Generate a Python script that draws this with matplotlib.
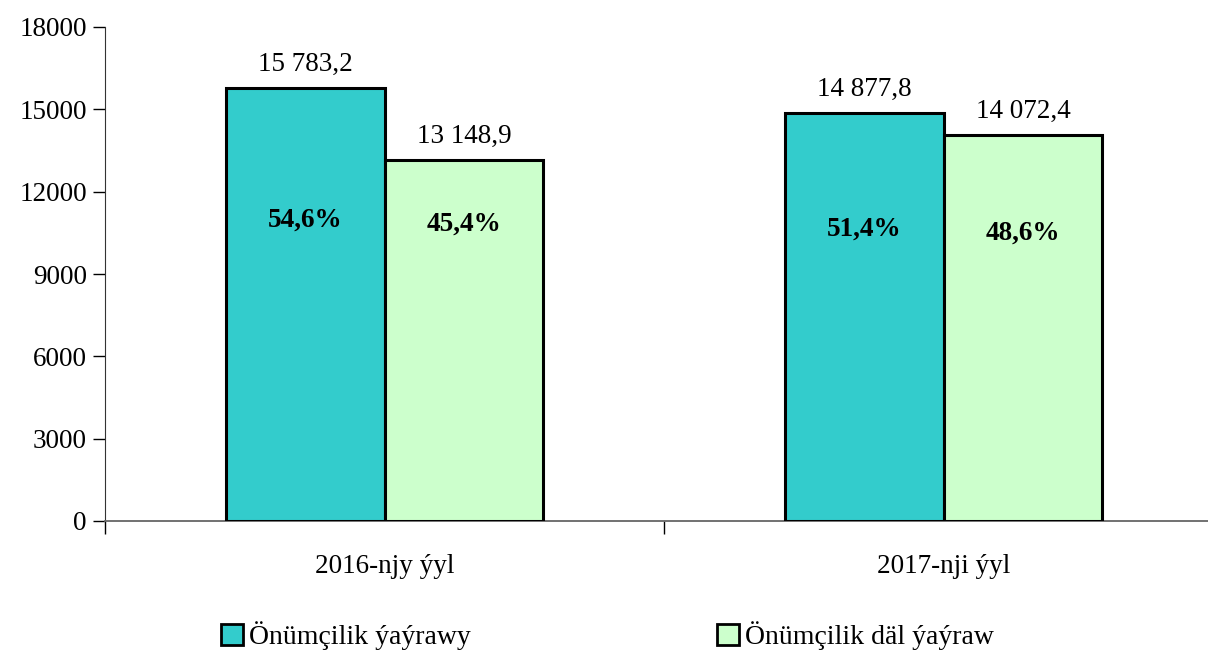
import matplotlib
matplotlib.use("Agg")
import matplotlib.pyplot as plt
from matplotlib.patches import Patch

categories = ["2016-njy ýyl", "2017-nji ýyl"]
series_names = ["Önümçilik ýaýrawy", "Önümçilik däl ýaýraw"]
production = [15783.2, 14877.8]
non_production = [13148.9, 14072.4]
value_labels = [["15 783,2", "14 877,8"], ["13 148,9", "14 072,4"]]
pct_labels = [["54,6%", "51,4%"], ["45,4%", "48,6%"]]
pct_y = [[10950, 10650], [10800, 10500]]
yticks = [0, 3000, 6000, 9000, 12000, 15000, 18000]

colors = ["#33CCCC", "#CCFFCC"]

plt.rcParams['font.family'] = ['Liberation Serif', 'DejaVu Serif']
FS = 19.5

fig = plt.figure(figsize=(12.08, 6.57), dpi=100)
ax = fig.add_axes([105/1208, 1-521/657, 1118/1208, 494/657])

w = 0.284
x = [0, 1]
series = [production, non_production]
for s, vals in enumerate(series):
    offs = -w/2 if s == 0 else w/2
    xs = [xi + offs for xi in x]
    bars = ax.bar(xs, vals, width=w, color=colors[s], edgecolor="black", linewidth=2.2, zorder=3)
    for i, b in enumerate(bars):
        ax.annotate(value_labels[s][i], (b.get_x()+b.get_width()/2, b.get_height()),
                    xytext=(0, 17), textcoords="offset points", ha="center", va="center", fontsize=FS)
        ax.text(b.get_x()+b.get_width()/2, pct_y[s][i], pct_labels[s][i], ha="center", va="center",
                fontsize=FS, fontweight="bold")

ax.set_xlim(-0.5, 1.5)
ax.set_ylim(0, 18000)
ax.set_yticks(yticks)
ax.set_yticklabels([str(t) for t in yticks], fontsize=FS)
ax.set_xticks([-0.5, 0.5, 1.5])
ax.set_xticklabels(["", "", ""])
ax.set_xticks(x, minor=True)
ax.set_xticklabels(categories, minor=True, fontsize=FS)
ax.tick_params(axis="x", which="minor", length=0, pad=24)
ax.tick_params(axis="x", which="major", length=9, width=1, direction="out")
ax.tick_params(axis="y", length=9, width=1, direction="out", pad=4)
for sp in ["top", "right"]:
    ax.spines[sp].set_visible(False)
ax.spines["left"].set_color("#333333")
ax.spines["bottom"].set_color("#666666")
ax.spines["bottom"].set_linewidth(1.3)

lx = [221/1208, 717/1208]
for i in range(2):
    h = Patch(facecolor=colors[i], edgecolor="black", linewidth=2)
    leg = fig.legend([h], [series_names[i]], loc="center left", bbox_to_anchor=(lx[i], 1-636/657),
                     frameon=False, fontsize=20, handlelength=0.8, handleheight=0.8,
                     handletextpad=0.2, borderpad=0, borderaxespad=0)

fig.savefig("out.png", dpi=100)
